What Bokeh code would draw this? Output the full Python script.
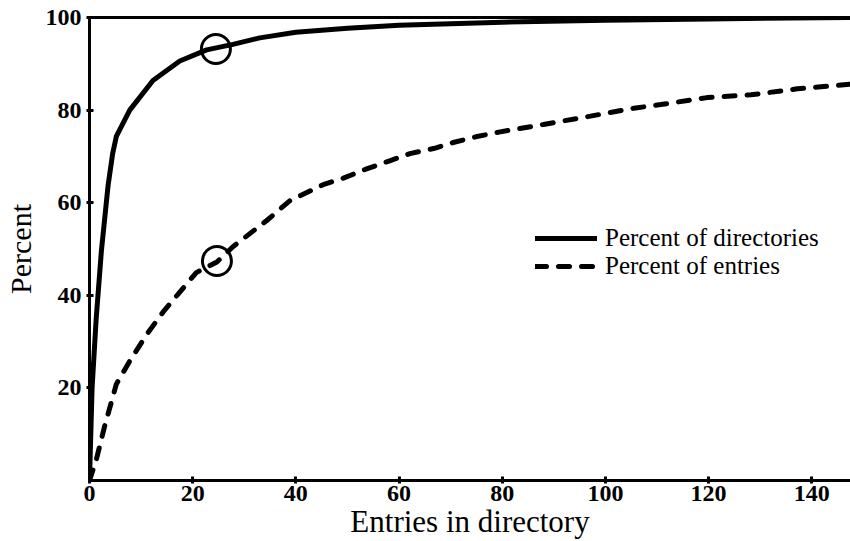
from bokeh.plotting import figure
from bokeh.models import Range1d, FixedTicker, LinearAxis, Legend, LegendItem
from bokeh.embed import file_html
from bokeh.resources import INLINE

# Percent of directories (cumulative) vs entries in directory
dir_x = [0, 0.5, 1.3, 2.3, 3.6, 4.5, 5.2, 7.8, 12.3, 17.5, 22.7, 27.8, 33, 40, 50, 60, 80, 100, 120, 147.5]
dir_y = [0, 20, 35, 49.5, 63.7, 70.7, 74.3, 80, 86.4, 90.6, 93, 94.2, 95.6, 96.8, 97.7, 98.3, 99.0, 99.4, 99.7, 100]

# Percent of entries (cumulative) vs entries in directory
ent_x = [0, 1.3, 2.9, 5.2, 7.8, 11, 14.2, 17.5, 20.7, 24.7, 27.8, 34.3, 38.8, 45.3, 49.2, 53.7,
         58.3, 62.1, 66.7, 70.5, 75.1, 79.6, 88, 97.1, 105.5, 110.7, 119.7, 128.2, 137.2, 147.5]
ent_y = [0, 4.4, 11.6, 20.8, 25.8, 31.4, 36.3, 40.7, 44.9, 47.2, 50.5, 56.1, 60.4, 63.9, 65.3, 67.3,
         69.1, 70.6, 71.7, 73.0, 74.3, 75.3, 76.9, 78.7, 80.4, 81.2, 82.7, 83.3, 84.6, 85.6]

# highlighted points (circled)
mark_x = [24.5, 24.7]
mark_y = [93.2, 47.4]

x_ticks = [0, 20, 40, 60, 80, 100, 120, 140]
y_ticks = [20, 40, 60, 80, 100]

FONT = "Liberation Serif"

p = figure(width=850, height=541, output_backend="svg", toolbar_location=None,
           x_range=Range1d(0, 147.5), y_range=Range1d(0, 100),
           min_border_left=89, min_border_right=0, min_border_top=17, min_border_bottom=57)
p.outline_line_color = None
p.grid.visible = False
p.background_fill_color = "white"

r1 = p.line(dir_x, dir_y, line_color="black", line_width=5, line_join="round", line_cap="round")
r2 = p.line(ent_x, ent_y, line_color="black", line_width=5, line_dash="11 12", line_cap="round")
p.scatter(mark_x, mark_y, marker="circle", size=29, fill_color=None, line_color="black", line_width=3)

for ax in (p.xaxis[0], p.yaxis[0]):
    ax.axis_line_width = 3
    ax.axis_line_color = "black"
    ax.major_tick_line_width = 3
    ax.major_tick_in = 4
    ax.major_tick_out = 3
    ax.minor_tick_line_color = None
    ax.major_label_text_font = FONT
    ax.major_label_text_font_style = "bold"
    ax.major_label_text_font_size = "24px"
    ax.major_label_text_color = "black"
    ax.axis_label_text_font = FONT
    ax.axis_label_text_font_style = "normal"
    ax.axis_label_text_color = "black"

p.xaxis[0].ticker = FixedTicker(ticks=x_ticks)
p.yaxis[0].ticker = FixedTicker(ticks=y_ticks)
p.xaxis[0].axis_label = "Entries in directory"
p.xaxis[0].axis_label_text_font_size = "31px"
p.xaxis[0].axis_label_standoff = 0
p.xaxis[0].major_label_standoff = 2
p.yaxis[0].axis_label = "Percent"
p.yaxis[0].axis_label_text_font_size = "30px"
p.yaxis[0].axis_label_standoff = 6
p.yaxis[0].major_label_standoff = 5

top = LinearAxis(ticker=FixedTicker(ticks=[]), axis_line_width=3, axis_line_color="black",
                 major_tick_line_color=None, minor_tick_line_color=None,
                 major_label_text_font_size="0px")
p.add_layout(top, "above")

legend = Legend(items=[LegendItem(label="Percent of directories", renderers=[r1]),
                       LegendItem(label="Percent of entries", renderers=[r2])],
                location=(446, 200), orientation="vertical",
                background_fill_alpha=0, border_line_color=None,
                padding=0, margin=0, spacing=-8,
                glyph_width=62, glyph_height=22, label_height=22, label_standoff=8,
                label_text_font=FONT, label_text_font_size="25px", label_text_color="black",
                label_text_line_height=0.9)
p.add_layout(legend, "center")

open("out.html", "w").write(file_html(p, INLINE))
